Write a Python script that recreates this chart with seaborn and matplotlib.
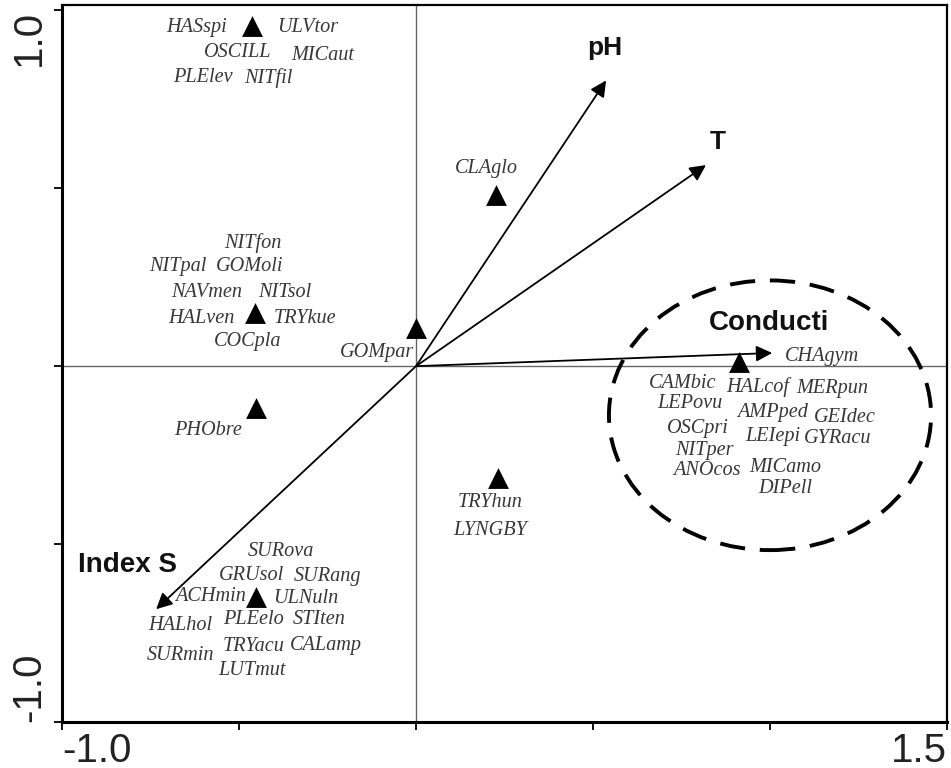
import matplotlib
matplotlib.use("Agg")
import matplotlib.pyplot as plt
from matplotlib.patches import Ellipse
import numpy as np
import pandas as pd
import seaborn as sns

# site scores (triangles)
site_x = [-0.463, 0.226, -0.455, 0.000, -0.452, 0.232, 0.912, -0.452]
site_y = [0.955, 0.480, 0.149, 0.107, -0.118, -0.315, 0.011, -0.649]

# species scores (labels)
species = ['HASspi', 'ULVtor', 'OSCILL', 'MICaut', 'PLElev', 'NITfil',
           'CLAglo',
           'NITfon', 'NITpal', 'GOMoli', 'NAVmen', 'NITsol', 'HALven', 'TRYkue', 'COCpla',
           'GOMpar', 'PHObre', 'TRYhun', 'LYNGBY',
           'CHAgym', 'CAMbic', 'HALcof', 'MERpun', 'LEPovu', 'AMPped', 'GEIdec',
           'OSCpri', 'LEIepi', 'GYRacu', 'NITper', 'MICamo', 'ANOcos', 'DIPell',
           'SURova', 'GRUsol', 'SURang', 'ACHmin', 'ULNuln', 'HALhol', 'PLEelo',
           'STIten', 'SURmin', 'TRYacu', 'CALamp', 'LUTmut']
species_x = [-0.619, -0.305, -0.503, -0.263, -0.602, -0.418,
             0.198,
             -0.460, -0.672, -0.470, -0.590, -0.370, -0.605, -0.314, -0.475,
             -0.110, -0.588, 0.209, 0.209,
             1.147, 0.754, 0.964, 1.176, 0.774, 1.008, 1.212,
             0.797, 1.008, 1.192, 0.816, 1.042, 0.822, 1.042,
             -0.381, -0.466, -0.251, -0.579, -0.311, -0.667, -0.458,
             -0.274, -0.664, -0.458, -0.254, -0.463]
species_y = [0.952, 0.952, 0.882, 0.874, 0.812, 0.809,
             0.556,
             0.346, 0.281, 0.281, 0.208, 0.208, 0.135, 0.135, 0.070,
             0.037, -0.180, -0.382, -0.461,
             0.028, -0.048, -0.059, -0.062, -0.104, -0.129, -0.143,
             -0.174, -0.199, -0.202, -0.236, -0.284, -0.292, -0.343,
             -0.520, -0.587, -0.590, -0.646, -0.654, -0.730, -0.713,
             -0.711, -0.812, -0.787, -0.784, -0.854]

# environmental vectors
env = ['pH', 'T', 'Conducti', 'Index S']
env_x = [0.537, 0.819, 1.006, -0.734]
env_y = [0.803, 0.565, 0.037, -0.683]
env_label_x = [0.534, 0.853, 0.997, -0.816]
env_label_y = [0.893, 0.629, 0.121, -0.559]
env_size = [19, 19, 20, 20]

sites = pd.DataFrame({'x': site_x, 'y': site_y})

sns.set_theme(style='white')
plt.rcParams['font.family'] = ['Liberation Sans', 'DejaVu Sans']

fig = plt.figure(figsize=(9.51, 7.68), dpi=100)
ax = fig.add_axes([0.0652, 0.0599, 0.9306, 0.9336])

ax.axhline(0, color='#666666', lw=1.0, zorder=1)
ax.axvline(0, color='#666666', lw=1.0, zorder=1)

sns.scatterplot(data=sites, x='x', y='y', marker='^', s=225, color='black',
                linewidth=0, ax=ax, zorder=3)

for name, x, y in zip(species, species_x, species_y):
    ax.text(x, y, name, ha='center', va='center', fontsize=14.6, style='italic',
            family='Liberation Serif', color='#383838', zorder=4)

for name, x, y, lx, ly, fs in zip(env, env_x, env_y, env_label_x, env_label_y, env_size):
    ax.annotate('', xy=(x, y), xytext=(0, 0),
                arrowprops=dict(arrowstyle='-|>', color='black', lw=1.3,
                                mutation_scale=24, shrinkA=0, shrinkB=0),
                zorder=2)
    ax.text(lx, ly, name, ha='center', va='center', fontsize=fs,
            fontweight='bold', color='#111111', zorder=4)

# dashed ellipse round the conductivity group
ell = Ellipse((1.0, -0.138), 0.91, 0.758, fill=False, edgecolor='black',
              lw=2.8, linestyle=(0, (6.5, 3.8)), zorder=2)
ax.add_patch(ell)

ax.set_xlim(-1.0, 1.5)
ax.set_ylim(-1.0, 1.015)
ax.set_xlabel('')
ax.set_ylabel('')

ax.set_xticks([-1.0, -0.5, 0.0, 0.5, 1.0, 1.5])
ax.set_xticklabels(['-1.0', '', '', '', '', '1.5'])
ax.set_yticks([-1.0, -0.5, 0.0, 0.5, 1.0])
ax.set_yticklabels(['-1.0', '', '', '', '1.0'], rotation=90)

ax.tick_params(axis='both', which='major', direction='out', length=6, width=1.3,
               color='black', labelsize=29, labelcolor='#222222', bottom=True, left=True)
ax.tick_params(axis='x', pad=1)
ax.tick_params(axis='y', pad=4)

xl = ax.get_xticklabels()
xl[0].set_ha('left')
xl[-1].set_ha('right')
yl = ax.get_yticklabels()
yl[0].set_va('bottom')
yl[-1].set_va('top')

for side in ['left', 'bottom', 'top', 'right']:
    ax.spines[side].set_visible(True)
    ax.spines[side].set_color('black')
    ax.spines[side].set_linewidth(1.6)
ax.spines['left'].set_linewidth(2.2)
ax.spines['bottom'].set_linewidth(2.2)

fig.savefig('out.png', dpi=100)
